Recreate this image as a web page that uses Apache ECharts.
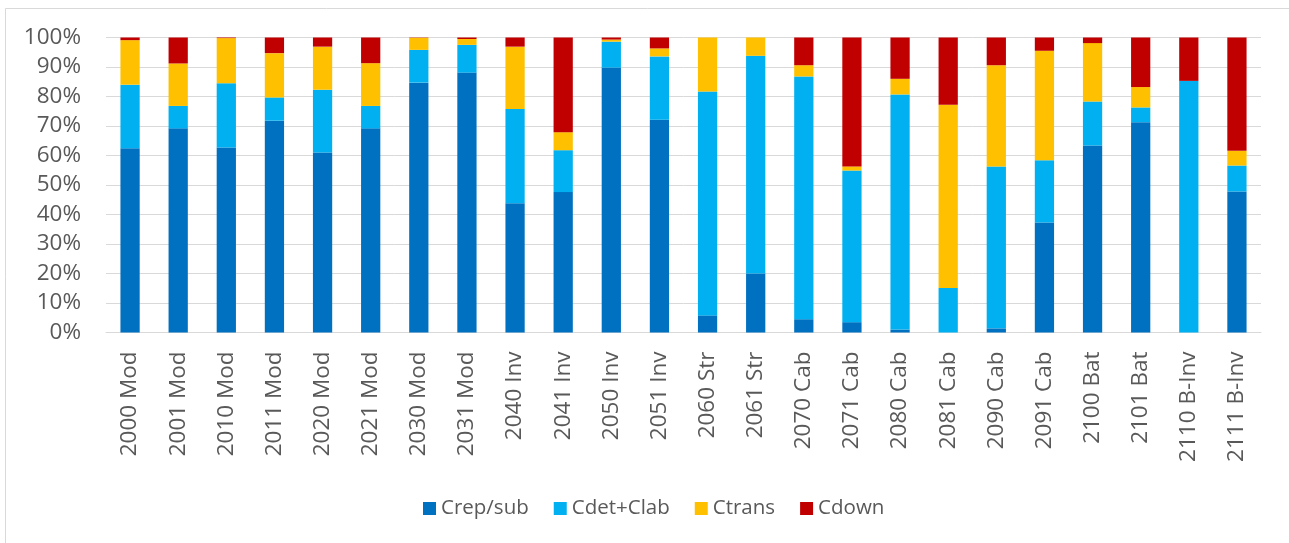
<!DOCTYPE html>
<html>
<head>
<meta charset="utf-8">
<script src="https://cdn.jsdelivr.net/npm/echarts@6/dist/echarts.min.js"></script>
<style>
  html, body { margin: 0; padding: 0; background: #fff; }
  #chart { width: 1289px; height: 543px; }
</style>
</head>
<body>
<div id="chart"></div>
<script>
// categories along the x axis
const categories = [
  '2000 Mod', '2001 Mod', '2010 Mod', '2011 Mod', '2020 Mod', '2021 Mod',
  '2030 Mod', '2031 Mod', '2040 Inv', '2041 Inv', '2050 Inv', '2051 Inv',
  '2060 Str', '2061 Str', '2070 Cab', '2071 Cab', '2080 Cab', '2081 Cab',
  '2090 Cab', '2091 Cab', '2100 Bat', '2101 Bat', '2110 B-Inv', '2111 B-Inv'
];

// shares in percent
const crepSub = [62.5, 69.2, 62.7, 71.8, 61.0, 69.2, 84.7, 88.1, 43.8, 47.6, 89.8, 72.1,
  5.8, 20.0, 4.5, 3.5, 1.0, 0, 1.4, 37.3, 63.4, 71.3, 0, 47.8];
const cdetClab = [21.5, 7.6, 21.8, 7.9, 21.3, 7.6, 11.1, 9.4, 32.0, 14.2, 8.8, 21.5,
  75.9, 73.8, 82.3, 51.4, 79.7, 15.1, 54.9, 21.1, 14.9, 5.0, 85.3, 8.8];
const ctrans = [15.1, 14.4, 15.3, 15.0, 14.6, 14.5, 4.1, 2.0, 21.1, 6.1, 0.7, 2.7,
  18.3, 6.2, 3.8, 1.4, 5.3, 62.1, 34.3, 37.1, 19.8, 6.9, 0, 5.0];
const cdown = [0.9, 8.8, 0.2, 5.3, 3.1, 8.7, 0.1, 0.5, 3.1, 32.1, 0.7, 3.7,
  0, 0, 9.4, 43.7, 14.0, 22.8, 9.4, 4.5, 1.9, 16.8, 14.7, 38.4];

const seriesNames = ['Crep/sub', 'Cdet+Clab', 'Ctrans', 'Cdown'];
const seriesColors = ['#0070C0', '#00B0F0', '#FFC000', '#C00000'];
const seriesData = [crepSub, cdetClab, ctrans, cdown];

const font = '"Open Sans", "Noto Sans", sans-serif';
const chart = echarts.init(document.getElementById('chart'));

const option = {
  animation: false,
  backgroundColor: '#fff',
  color: seriesColors,
  textStyle: { fontFamily: font },
  // thin chart border like the spreadsheet frame
  graphic: [{
    type: 'rect',
    shape: { x: 5.5, y: 8.5, width: 1400, height: 700 },
    style: { fill: 'none', stroke: '#d9d9d9', lineWidth: 1 },
    silent: true
  }],
  grid: {
    left: 106,
    right: 28,
    top: 37.5,
    bottom: 210.5,
    containLabel: false
  },
  legend: {
    data: seriesNames,
    left: 418,
    top: 493,
    icon: 'rect',
    itemWidth: 13,
    itemHeight: 13,
    itemGap: 25,
    textStyle: { fontFamily: font, fontSize: 20.5, color: '#595959' }
  },
  xAxis: {
    type: 'category',
    data: categories,
    axisLine: { lineStyle: { color: '#d9d9d9', width: 1 } },
    axisTick: { show: false },
    axisLabel: {
      rotate: 90,
      interval: 0,
      margin: 19,
      fontFamily: font,
      fontSize: 22.5,
      color: '#595959'
    }
  },
  yAxis: {
    type: 'value',
    min: 0,
    max: 100,
    interval: 10,
    axisLine: { show: false },
    axisTick: { show: false },
    splitLine: { lineStyle: { color: '#d9d9d9', width: 1 } },
    axisLabel: {
      formatter: '{value}%',
      margin: 25,
      fontFamily: font,
      fontSize: 22.5,
      color: '#595959'
    }
  },
  series: seriesNames.map((name, i) => ({
    name: name,
    type: 'bar',
    stack: 'total',
    barWidth: '40%',
    data: seriesData[i],
    itemStyle: { color: seriesColors[i] }
  }))
};

chart.setOption(option);
</script>
</body>
</html>
